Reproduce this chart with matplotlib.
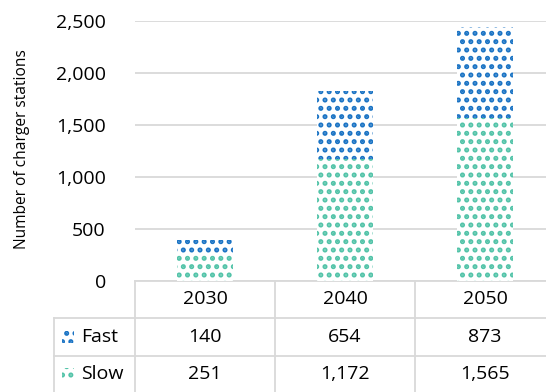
import matplotlib.pyplot as plt
from matplotlib.patches import Rectangle
from matplotlib.lines import Line2D

years = ['2030', '2040', '2050']
fast = [140, 654, 873]
slow = [251, 1172, 1565]
series = ['Fast', 'Slow']
blue = '#1a73c4'
teal = '#52c3a8'
grid = '#d9d9d9'

plt.rcParams['font.family'] = ['Open Sans', 'DejaVu Sans']
plt.rcParams['hatch.linewidth'] = 2.4

W, H = 546, 392
fig = plt.figure(figsize=(W / 100, H / 100), dpi=100)

# plot area in pixels: x 135..546, y 21..281
ax = fig.add_axes([135 / W, (H - 281) / H, (W - 135) / W, 260 / H])

x = range(len(years))
ax.bar(x, slow, width=0.4, color='white', edgecolor=teal, hatch='..', linewidth=0, zorder=3)
ax.bar(x, fast, width=0.4, bottom=slow, color='white', edgecolor=blue, hatch='..', linewidth=0, zorder=3)

ax.set_xlim(-0.5, -0.5 + (W - 135) / 140)
ax.set_ylim(0, 2500)
ax.set_yticks([0, 500, 1000, 1500, 2000, 2500])
ax.set_yticklabels(['0', '500', '1,000', '1,500', '2,000', '2,500'], fontsize=14)
ax.tick_params(axis='y', length=0, pad=21)
ax.set_xticks([])
ax.yaxis.grid(True, color=grid, linewidth=1.3, zorder=0)
ax.set_axisbelow(True)
for s in ['top', 'right', 'left']:
    ax.spines[s].set_visible(False)
ax.spines['bottom'].set_color(grid)
ax.spines['bottom'].set_linewidth(1.3)

fig.text(22 / W, 1 - 149 / H, 'Number of charger stations', rotation=90,
         ha='center', va='center', fontsize=11.2)


def fx(px):
    return px / W


def fy(py):
    return 1 - py / H


def hline(x0, x1, y):
    fig.add_artist(Line2D([fx(x0), fx(x1)], [fy(y), fy(y)], color=grid, linewidth=1.3))


def vline(x0, y0, y1):
    fig.add_artist(Line2D([fx(x0), fx(x0)], [fy(y0), fy(y1)], color=grid, linewidth=1.3))


# data table under the chart
hline(54, W, 318)
hline(54, W, 356)
vline(54, 318, H)
for cx in [135, 275, 415]:
    vline(cx, 281, H)

col_centers = [205, 345, 485]
rows = [(299, years), (337, [f'{v:,}' for v in fast]), (374, [f'{v:,}' for v in slow])]
for ry, vals in rows:
    for cx, v in zip(col_centers, vals):
        fig.text(fx(cx), fy(ry), v, ha='center', va='center', fontsize=14)

for ry, name, c in [(337, series[0], blue), (374, series[1], teal)]:
    fig.add_artist(Rectangle((fx(62), fy(ry + 6)), 12 / W, 12 / H, transform=fig.transFigure,
                             facecolor='white', edgecolor=c, hatch='..', linewidth=0))
    fig.text(fx(81), fy(ry), name, ha='left', va='center', fontsize=14)

fig.savefig('out.png', dpi=100)
